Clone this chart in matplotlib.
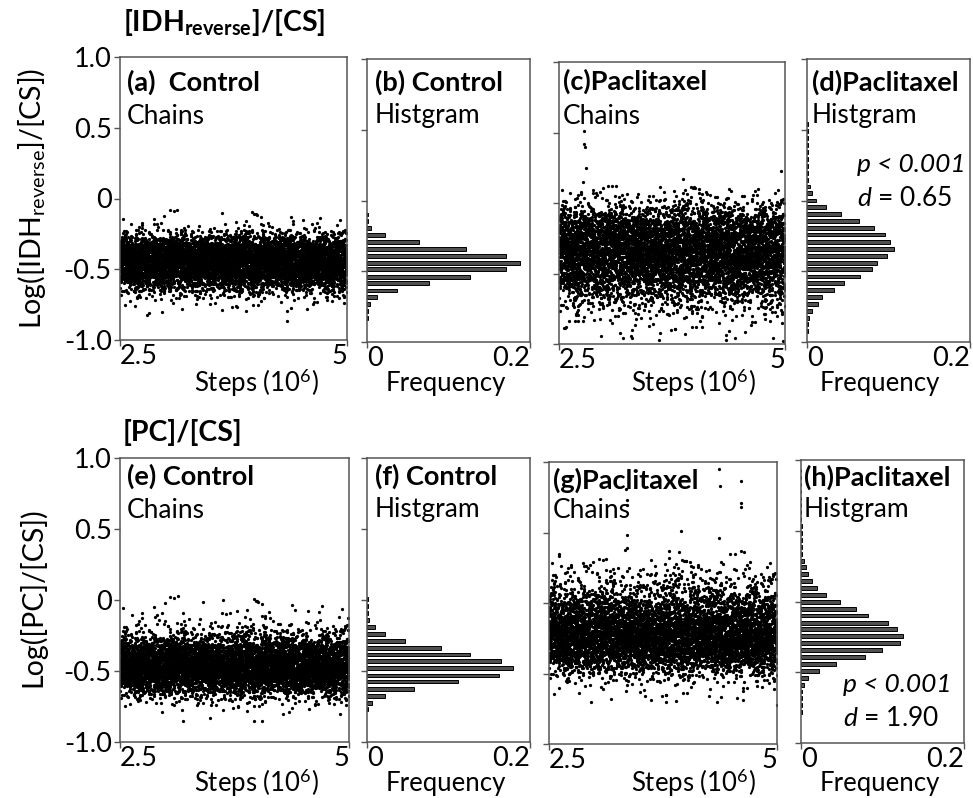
import numpy as np
import matplotlib
matplotlib.use("Agg")
import matplotlib.pyplot as plt

plt.rcParams['font.family'] = ['Lato', 'DejaVu Sans']
plt.rcParams['mathtext.fontset'] = 'custom'
plt.rcParams['mathtext.rm'] = 'Lato'
plt.rcParams['mathtext.it'] = 'Lato:italic'
plt.rcParams['mathtext.bf'] = 'Lato:bold'

# ---------------- data ----------------
BIN_W = 0.049

# (b) Control histogram of log([IDH_reverse]/[CS])
idh_ctrl_bins = [-0.10, -0.145, -0.194, -0.244, -0.293, -0.345, -0.390, -0.440,
                 -0.486, -0.541, -0.585, -0.635, -0.684, -0.731, -0.779, -0.828]
idh_ctrl_freq = [0.0012, 0.0016, 0.0046, 0.0219, 0.0638, 0.1214, 0.1704, 0.1873,
                 0.1704, 0.1263, 0.0762, 0.0370, 0.0127, 0.0033, 0.0016, 0.0009]

# (d) Paclitaxel histogram of log([IDH_reverse]/[CS])
idh_pac_bins = [0.539, 0.490, 0.441, 0.392, 0.343, 0.294, 0.245, 0.196, 0.147,
                0.098, 0.051, 0.001, -0.048, -0.095, -0.145, -0.194, -0.241,
                -0.291, -0.343, -0.390, -0.440, -0.484, -0.538, -0.585, -0.633,
                -0.682, -0.731, -0.781, -0.828, -0.875, -0.922]
idh_pac_freq = [0.0007, 0.0007, 0.0007, 0.0007, 0.0007, 0.0007, 0.0008, 0.0008, 0.0009,
                0.0033, 0.0066, 0.0115, 0.0235, 0.0420, 0.0640, 0.0827, 0.0963,
                0.1016, 0.1066, 0.0984, 0.0864, 0.0794, 0.0646, 0.0457, 0.0337,
                0.0185, 0.0136, 0.0066, 0.0029, 0.0016, 0.0012]

# (f) Control histogram of log([PC]/[CS])
pc_ctrl_bins = [0.005, -0.042, -0.092, -0.139, -0.188, -0.237, -0.287, -0.338,
                -0.383, -0.432, -0.481, -0.531, -0.575, -0.627, -0.676, -0.725, -0.770]
pc_ctrl_freq = [0.0012, 0.0012, 0.0016, 0.0029, 0.0099, 0.0218, 0.0469, 0.0910,
                0.1264, 0.1650, 0.1787, 0.1618, 0.1115, 0.0572, 0.0218, 0.0066, 0.0016]

# (h) Paclitaxel histogram of log([PC]/[CS])
pc_pac_bins = [0.925, 0.876, 0.827, 0.778, 0.729, 0.680, 0.631, 0.582, 0.533,
               0.484, 0.435, 0.386, 0.337,
               0.288, 0.242, 0.192, 0.145, 0.095, 0.046, -0.004, -0.051, -0.100,
               -0.150, -0.196, -0.244, -0.293, -0.345, -0.392, -0.442, -0.491,
               -0.541, -0.588, -0.637, -0.684, -0.733, -0.782]
pc_pac_freq = [0.0006, 0.0006, 0.0006, 0.0006, 0.0006, 0.0006, 0.0006, 0.0006, 0.0007,
               0.0007, 0.0007, 0.0008, 0.0009,
               0.0033, 0.0058, 0.0086, 0.0136, 0.0201, 0.0305, 0.0473, 0.0679, 0.0827,
               0.1062, 0.1181, 0.1251, 0.1214, 0.0996, 0.0782, 0.0428, 0.0222,
               0.0090, 0.0033, 0.0015, 0.0012, 0.0008, 0.0008]

# isolated chain points (step in 1e6, value)
idh_ctrl_out_x = [4.34, 2.80, 2.82, 4.52, 4.40, 4.61, 2.74, 2.67]
idh_ctrl_out_y = [-0.865, -0.82, -0.81, -0.15, -0.18, -0.18, -0.21, -0.76]
idh_pac_out_x = [2.78, 2.78, 2.79, 2.795, 2.77, 4.96, 3.87, 2.57, 2.58, 2.68, 2.71, 2.77,
                 3.21, 3.30, 3.31, 3.61, 4.35, 4.45, 4.87, 4.98, 3.31, 4.08]
idh_pac_out_y = [0.513, 0.42, 0.40, 0.25, 0.15, 0.23, 0.17, -0.89, -0.88, -0.84, -0.84, -0.84,
                 -0.96, -0.94, -0.96, -0.97, -0.97, -0.96, -0.96, -0.98, -0.90, -0.88]
pc_ctrl_out_x = [3.41, 4.55, 3.19, 3.61, 3.70, 4.08, 4.99, 2.99, 3.19, 3.96, 4.05, 3.48, 4.28, 4.90]
pc_ctrl_out_y = [-0.012, -0.08, -0.09, -0.094, -0.094, -0.11, -0.13, -0.15,
                 -0.85, -0.85, -0.85, -0.83, -0.80, -0.80]
pc_pac_out_x = [4.36, 4.37, 4.61, 4.61, 4.61, 3.34, 3.35, 3.35, 3.35, 4.36, 3.95, 2.61, 2.61,
                3.33, 3.35, 3.82, 3.82, 3.93, 4.48, 4.54, 4.60, 4.64,
                3.78, 4.63, 5.00, 3.55, 4.25, 2.83]
pc_pac_out_y = [0.95, 0.83, 0.865, 0.71, 0.68, 0.81, 0.73, 0.695, 0.48, 0.46, 0.51, 0.35, 0.33,
                0.375, 0.39, 0.37, 0.32, 0.36, 0.35, 0.35, 0.37, 0.36,
                -0.70, -0.69, -0.72, -0.66, -0.66, -0.64]

n_chain = 6500
steps_range = (2.5, 5.0)
p_texts = ["p < 0.001", "p < 0.001"]
d_texts = ["0.65", "1.90"]


def chain_points(bins, freqs, n):
    """One sample per step; sample values are the quantiles of the read histogram,
    visited in a fixed scrambled order."""
    b = np.asarray(bins, float)
    f = np.asarray(freqs, float)
    keep = f >= 0.001
    b, f = b[keep], f[keep]
    order = np.argsort(b)
    b, f = b[order], f[order]
    edges = np.concatenate([[b[0] - BIN_W / 2], b + BIN_W / 2])
    cdf = np.concatenate([[0.0], np.cumsum(f)])
    cdf /= cdf[-1]
    q = (np.arange(n) + 0.5) / n
    values = np.interp(q, cdf, edges)
    key = (np.sin(np.arange(n) * 12.9898 + 78.233) * 43758.5453) % 1.0
    values = values[np.argsort(key)]
    x = np.linspace(steps_range[0], steps_range[1], n)
    return x, values


W, H = 973, 798
fig = plt.figure(figsize=(W / 100, H / 100), dpi=100)


def add_ax(l, r, t, b):
    return fig.add_axes([l / W, 1 - b / H, (r - l) / W, (b - t) / H])


FS_TICK = 19.5
FS_LAB = 18.5
FS_TITLE = 19.5
FS_SUB = 19
SPINE = '#555555'
DOT = 5.5


def style(ax):
    for s in ax.spines.values():
        s.set_color(SPINE)
        s.set_linewidth(1.1)
    ax.set_ylim(-1.0, 1.0)
    ax.set_yticks([-1.0, -0.5, 0, 0.5, 1.0])
    ax.tick_params(axis='both', direction='out', length=4, width=1, color=SPINE,
                   labelsize=FS_TICK)
    ax.tick_params(axis='y', left=True, right=False, pad=2)
    ax.tick_params(axis='x', bottom=True, top=False, pad=-1)


def chain_panel(ax, bins, freqs, ox, oy, show_ylabels):
    style(ax)
    x, y = chain_points(bins, freqs, n_chain)
    ax.scatter(x, y, s=DOT, c='black', marker='o', linewidths=0)
    ax.scatter(ox, oy, s=DOT, c='black', marker='o', linewidths=0)
    ax.set_xlim(*steps_range)
    ax.set_xticks([2.5, 5])
    ax.set_xticklabels(['2.5', '5'])
    labs = ax.get_xticklabels()
    labs[0].set_ha('left')
    labs[1].set_ha('right')
    if show_ylabels:
        ax.set_yticklabels(['-1.0', '-0.5', '0', '0.5', '1.0'])
    else:
        ax.set_yticklabels([])
    return ax


def hist_panel(ax, bins, freqs):
    style(ax)
    ax.barh(bins, freqs, height=0.026, color='#505050', edgecolor='black', linewidth=0.7)
    ax.set_xlim(0, 0.2)
    ax.set_xticks([0, 0.2])
    ax.set_xticklabels(['0', '0.2'])
    labs = ax.get_xticklabels()
    labs[0].set_ha('left')
    labs[1].set_ha('right')
    ax.set_yticklabels([])
    return ax


def panel_text(ax, dx_px, dy1_px, dy2_px, title, sub):
    bb = ax.get_position()
    hpx = bb.height * H
    wpx = bb.width * W
    ax.text(dx_px / wpx, 1 - dy1_px / hpx, title, transform=ax.transAxes, fontsize=FS_TITLE,
            fontweight='bold', va='center', ha='left')
    ax.text(dx_px / wpx, 1 - dy2_px / hpx, sub, transform=ax.transAxes, fontsize=FS_SUB,
            va='center', ha='left')


def xlabel_at(text, xc, yc):
    fig.text(xc / W, 1 - yc / H, text, fontsize=FS_LAB, ha='center', va='center')


# row 1
axa = add_ax(120, 347, 57, 340)
chain_panel(axa, idh_ctrl_bins, idh_ctrl_freq, idh_ctrl_out_x, idh_ctrl_out_y, True)
panel_text(axa, 7, 25, 60, '(a)  Control', 'Chains')

axb = add_ax(367, 530, 59, 342)
hist_panel(axb, idh_ctrl_bins, idh_ctrl_freq)
panel_text(axb, 8, 23, 57, '(b) Control', 'Histgram')

axc = add_ax(559, 785, 62, 344)
chain_panel(axc, idh_pac_bins, idh_pac_freq, idh_pac_out_x, idh_pac_out_y, False)
panel_text(axc, 4, 19, 55, '(c)Paclitaxel', 'Chains')

axd = add_ax(807, 970, 59, 342)
hist_panel(axd, idh_pac_bins, idh_pac_freq)
panel_text(axd, 5, 23, 56, '(d)Paclitaxel', 'Histgram')
axd.text((857 - 807) / 163, 1 - (165 - 59) / 283, p_texts[0], transform=axd.transAxes,
         fontsize=FS_SUB, fontstyle='italic', va='center', ha='left')
axd.text((857 - 807) / 163, 1 - (198 - 59) / 283, '$\\it{d}$ = ' + d_texts[0],
         transform=axd.transAxes, fontsize=FS_SUB, va='center', ha='left')

xlabel_at('Steps (10$^{6}$)', 256, 383)
xlabel_at('Frequency', 446, 384)
xlabel_at('Steps (10$^{6}$)', 693, 383)
xlabel_at('Frequency', 880, 384)

# row 2
axe = add_ax(120, 349, 458, 742)
chain_panel(axe, pc_ctrl_bins, pc_ctrl_freq, pc_ctrl_out_x, pc_ctrl_out_y, True)
panel_text(axe, 7, 18, 52, '(e) Control', 'Chains')

axf = add_ax(367, 530, 458, 742)
hist_panel(axf, pc_ctrl_bins, pc_ctrl_freq)
panel_text(axf, 8, 18, 52, '(f) Control', 'Histgram')

axg = add_ax(549, 777, 462, 744)
chain_panel(axg, pc_pac_bins, pc_pac_freq, pc_pac_out_x, pc_pac_out_y, False)
panel_text(axg, 4, 18, 48, '(g)Paclitaxel', 'Chains')

axh = add_ax(801, 964, 460, 743)
hist_panel(axh, pc_pac_bins, pc_pac_freq)
panel_text(axh, 3, 17, 50, '(h)Paclitaxel', 'Histgram')
axh.text((843 - 801) / 163, 1 - (685 - 460) / 283, p_texts[1], transform=axh.transAxes,
         fontsize=FS_SUB, fontstyle='italic', va='center', ha='left')
axh.text((843 - 801) / 163, 1 - (718 - 460) / 283, '$\\it{d}$ = ' + d_texts[1],
         transform=axh.transAxes, fontsize=FS_SUB, va='center', ha='left')

xlabel_at('Steps (10$^{6}$)', 256, 783)
xlabel_at('Frequency', 446, 784)
xlabel_at('Steps (10$^{6}$)', 693, 783)
xlabel_at('Frequency', 880, 784)

# row titles and y labels
fig.text(123 / W, 1 - 22 / H, '[IDH$_{\\mathbf{reverse}}$]/[CS]', fontsize=20.5,
         fontweight='bold', ha='left', va='center')
fig.text(123 / W, 1 - 432 / H, '[PC]/[CS]', fontsize=20.5, fontweight='bold',
         ha='left', va='center')
fig.text(32 / W, 1 - 198 / H, 'Log([IDH$_{\\mathrm{reverse}}$]/[CS])', fontsize=20.5,
         rotation=90, ha='center', va='center')
fig.text(32 / W, 1 - 597 / H, 'Log([PC]/[CS])', fontsize=20.5,
         rotation=90, ha='center', va='center')

fig.savefig('out.png', dpi=100)
